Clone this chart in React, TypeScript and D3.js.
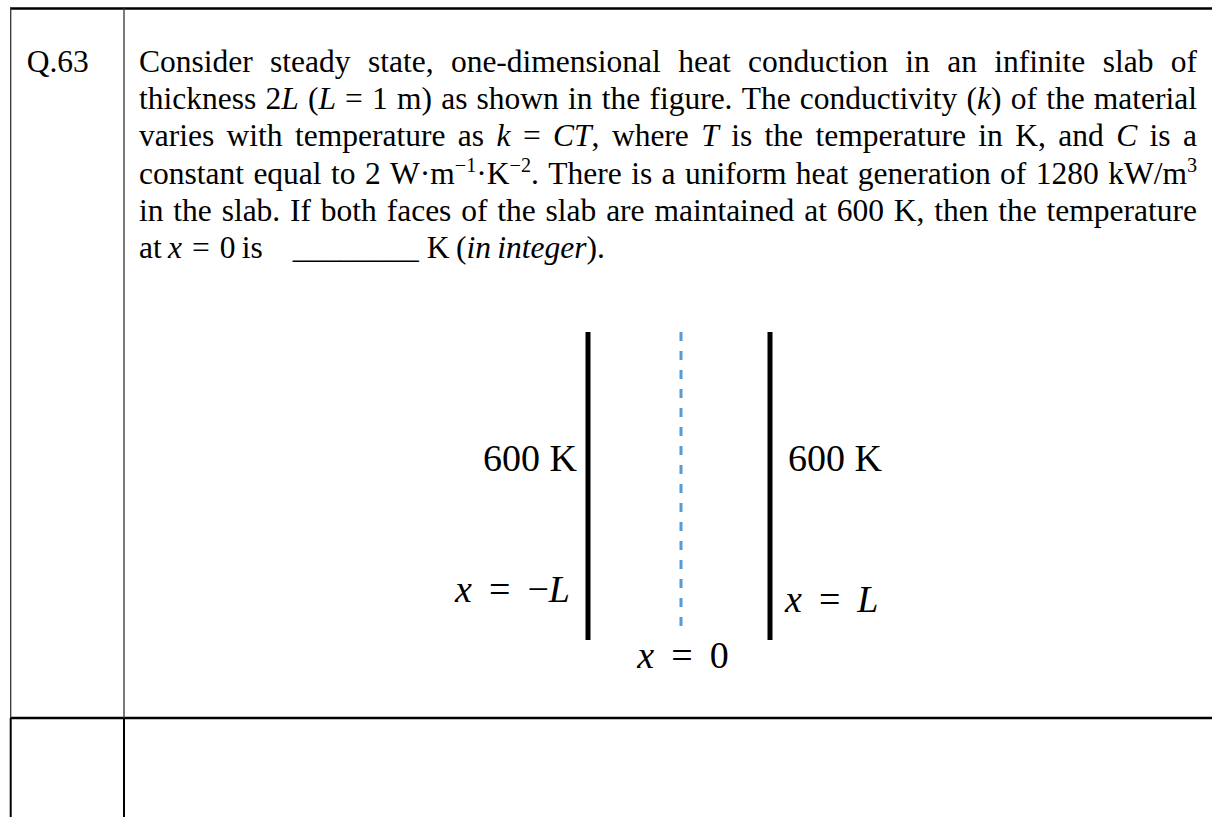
import React, { useEffect, useRef } from "react";
import * as d3 from "d3";

// question text, *..* = italic, ^..^ = superscript
const questionNo = "Q.63";
const questionLines = [
  "Consider steady state, one-dimensional heat conduction in an infinite slab of",
  "thickness 2*L* (*L* = 1 m) as shown in the figure. The conductivity (*k*) of the material",
  "varies with temperature as *k* = *CT*, where *T* is the temperature in K, and *C* is a",
  "constant equal to 2 W·m^−1^·K^−2^. There is a uniform heat generation of 1280 kW/m^3^",
  "in the slab.  If both faces of the slab are maintained at 600 K, then the temperature",
  "at *x* = 0 is ________ K (*in integer*).",
];
const justified = [true, true, true, true, true, false];

// slab: face positions (m), face temperatures (K), labels
const faceX = [-1, 1];
const faceTemps = [600, 600];
const faceLabels = ["x = −L", "x = L"];
const midX = 0;
const midLabel = "x = 0";

const FONT = "'Liberation Serif', 'Times New Roman', serif";
const FS = 31.5;
const W = 1212,
  H = 817;

type Run = { t: string; i: boolean; sup: boolean };

// split a marked-up line into words made of runs
function parseLine(line: string): Run[][] {
  const words: Run[][] = [];
  let cur: Run[] = [];
  let it = false,
    sup = false,
    buf = "";
  const flush = () => {
    if (buf) cur.push({ t: buf, i: it, sup });
    buf = "";
  };
  for (const ch of line) {
    if (ch === "*") {
      flush();
      it = !it;
    } else if (ch === "^") {
      flush();
      sup = !sup;
    } else if (ch === " ") {
      flush();
      if (cur.length) words.push(cur);
      cur = [];
    } else buf += ch;
  }
  flush();
  if (cur.length) words.push(cur);
  return words;
}

function drawRuns(text: any, runs: Run[], size: number) {
  let shift = 0;
  runs.forEach((r) => {
    const target = r.sup ? -size * 0.38 : 0;
    const ts = text
      .append("tspan")
      .attr("font-style", r.i ? "italic" : "normal")
      .attr("font-size", r.sup ? size * 0.64 : size)
      .text(r.t);
    if (target !== shift) {
      ts.attr("dy", target - shift);
      shift = target;
    }
  });
}

// math label like "x = −L": letters italic, wide space round "="
function drawMath(g: any, label: string, x: number, y: number, anchor: string) {
  const size = 38;
  const t = g
    .append("text")
    .attr("x", x)
    .attr("y", y)
    .attr("text-anchor", anchor)
    .attr("font-family", FONT)
    .attr("font-size", size);
  label.split(" ").forEach((tok, k) => {
    const parts = tok.match(/[A-Za-z]+|[^A-Za-z]+/g) || [];
    parts.forEach((p, j) => {
      const ts = t
        .append("tspan")
        .attr("font-style", /[A-Za-z]/.test(p) ? "italic" : "normal")
        .text(p);
      if (k > 0 && j === 0) ts.attr("dx", 17);
    });
  });
}

const App = () => {
  const svgRef = useRef<SVGSVGElement>(null);

  useEffect(() => {
    const svg = d3.select(svgRef.current);
    svg.selectAll("*").remove();

    // table rules
    const rules = svg.append("g");
    rules.append("line").attr("x1", 10).attr("x2", W).attr("y1", 8.5).attr("y2", 8.5)
      .attr("stroke", "#000").attr("stroke-width", 2.5);
    rules.append("line").attr("x1", 10).attr("x2", W).attr("y1", 718).attr("y2", 718)
      .attr("stroke", "#000").attr("stroke-width", 2.5);
    [10.7, 124].forEach((x) => {
      rules.append("line").attr("x1", x).attr("x2", x).attr("y1", 8).attr("y2", 718)
        .attr("stroke", "#333").attr("stroke-width", 1.3);
      rules.append("line").attr("x1", x).attr("x2", x).attr("y1", 718).attr("y2", H)
        .attr("stroke", "#000").attr("stroke-width", 2);
    });

    // question number
    svg.append("text").attr("x", 26.7).attr("y", 72)
      .attr("font-family", FONT).attr("font-size", FS).text(questionNo);

    // question body, justified like the document
    const x0 = 139,
      x1 = 1197,
      lineH = 37.2,
      base0 = 72;
    questionLines.forEach((line, li) => {
      const g = svg.append("g");
      const words = parseLine(line).map((runs) => {
        const t = g.append("text").attr("y", 0)
          .attr("font-family", FONT).attr("font-size", FS);
        drawRuns(t, runs, FS);
        const w = (t.node() as SVGTextElement).getComputedTextLength();
        return { t, w, runs };
      });
      const total = d3.sum(words, (d) => d.w);
      let sx = 1;
      let gaps: number[];
      if (justified[li]) {
        let gap = (x1 - x0 - total) / (words.length - 1);
        if (gap < 6) {
          gap = 6;
          sx = (x1 - x0) / (total + gap * (words.length - 1));
        }
        gaps = words.map(() => gap);
      } else {
        gaps = words.map((d, k) => {
          const prev = k > 0 ? words[k - 1].runs.map((r) => r.t).join("") : "";
          const txt = d.runs.map((r) => r.t).join("");
          if (txt === "=" || prev === "=") return 10;
          if (txt.startsWith("_")) return 30;
          if (prev.startsWith("_")) return 8;
          return FS * 0.2;
        });
      }
      let cx = 0;
      words.forEach((d, k) => {
        if (k > 0) cx += gaps[k];
        d.t.attr("x", cx);
        cx += d.w;
      });
      g.attr("transform", `translate(${x0},${base0 + li * lineH}) scale(${sx},1)`);
    });

    // slab figure
    const xs = d3.scaleLinear().domain([-1, 1]).range([588, 770]);
    const yTop = 332,
      yBot = 640;
    const fig = svg.append("g");

    fig.selectAll("line.face").data(faceX).enter().append("line")
      .attr("class", "face")
      .attr("x1", (d) => xs(d)).attr("x2", (d) => xs(d))
      .attr("y1", yTop).attr("y2", yBot)
      .attr("stroke", "#000").attr("stroke-width", 5);

    fig.append("line")
      .attr("x1", xs(midX) + 2).attr("x2", xs(midX) + 2)
      .attr("y1", yTop).attr("y2", yBot - 5)
      .attr("stroke", "#5B9BD5").attr("stroke-width", 3)
      .attr("stroke-dasharray", "9 10");

    faceX.forEach((d, k) => {
      const left = d < 0;
      fig.append("text")
        .attr("x", left ? xs(d) - 11 : xs(d) + 18)
        .attr("y", 471)
        .attr("text-anchor", left ? "end" : "start")
        .attr("font-family", FONT).attr("font-size", 38)
        .text(`${faceTemps[k]} K`);
      drawMath(fig, faceLabels[k], left ? xs(d) - 18 : xs(d) + 15, left ? 602 : 612,
        left ? "end" : "start");
    });
    drawMath(fig, midLabel, xs(midX) + 4, 668, "middle");
  }, []);

  return (
    <svg
      ref={svgRef}
      width={W}
      height={H}
      style={{ position: "absolute", left: 0, top: 0, background: "#fff" }}
    />
  );
};

export default App;
